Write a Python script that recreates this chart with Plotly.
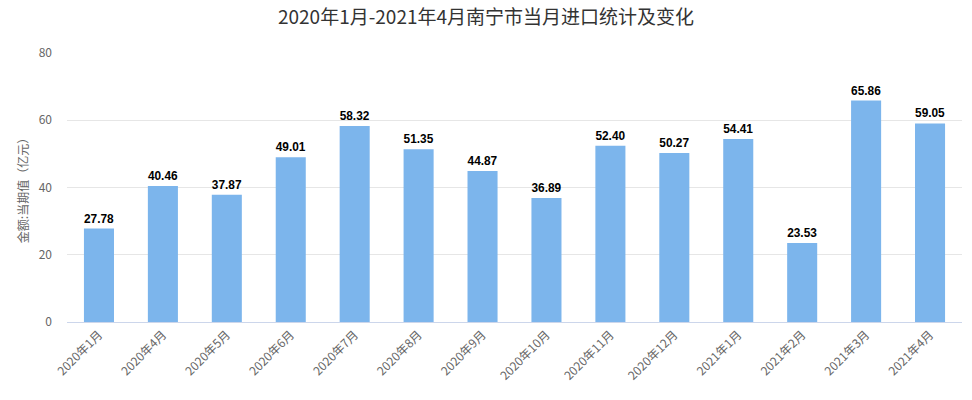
import plotly.graph_objects as go

categories = ["2020年1月", "2020年4月", "2020年5月", "2020年6月", "2020年7月", "2020年8月",
              "2020年9月", "2020年10月", "2020年11月", "2020年12月", "2021年1月", "2021年2月",
              "2021年3月", "2021年4月"]
values = [27.78, 40.46, 37.87, 49.01, 58.32, 51.35, 44.87, 36.89, 52.40, 50.27, 54.41, 23.53, 65.86, 59.05]
y_ticks = [0, 20, 40, 60, 80]

font_family = "Noto Sans CJK SC, Noto Sans, sans-serif"

fig = go.Figure(go.Bar(
    x=categories, y=values,
    marker=dict(color="#7cb5ec", line=dict(width=0)),
    text=[f"{v:.2f}" for v in values],
    textposition="outside",
    textfont=dict(family="Liberation Sans, Arial, sans-serif", size=12, color="#000000"),
    texttemplate="<b>%{text}</b>",
    cliponaxis=False,
))

fig.update_layout(
    width=972, height=400,
    margin=dict(l=67, r=10, t=53, b=78),
    paper_bgcolor="white", plot_bgcolor="white",
    bargap=0.53,
    showlegend=False,
    title=dict(text="2020年1月-2021年4月南宁市当月进口统计及变化",
               x=0.5, xanchor="center", y=0.957, yanchor="middle",
               font=dict(family=font_family, size=19, color="#333333")),
    font=dict(family=font_family),
)
fig.update_xaxes(
    tickangle=-45,
    tickfont=dict(size=12, color="#666666"),
    showline=True, linecolor="#ccd6eb", linewidth=1,
    showgrid=False, ticks="",
)
fig.update_yaxes(
    range=[0, 80], tickvals=y_ticks,
    tickfont=dict(size=12, color="#666666"),
    gridcolor="#e6e6e6", gridwidth=1,
    zeroline=False, showline=False,
    title=dict(text="金额:当期值（亿元）", font=dict(size=12, color="#666666"), standoff=7),
    ticklabelstandoff=14,
)

fig.write_html("out.html")
